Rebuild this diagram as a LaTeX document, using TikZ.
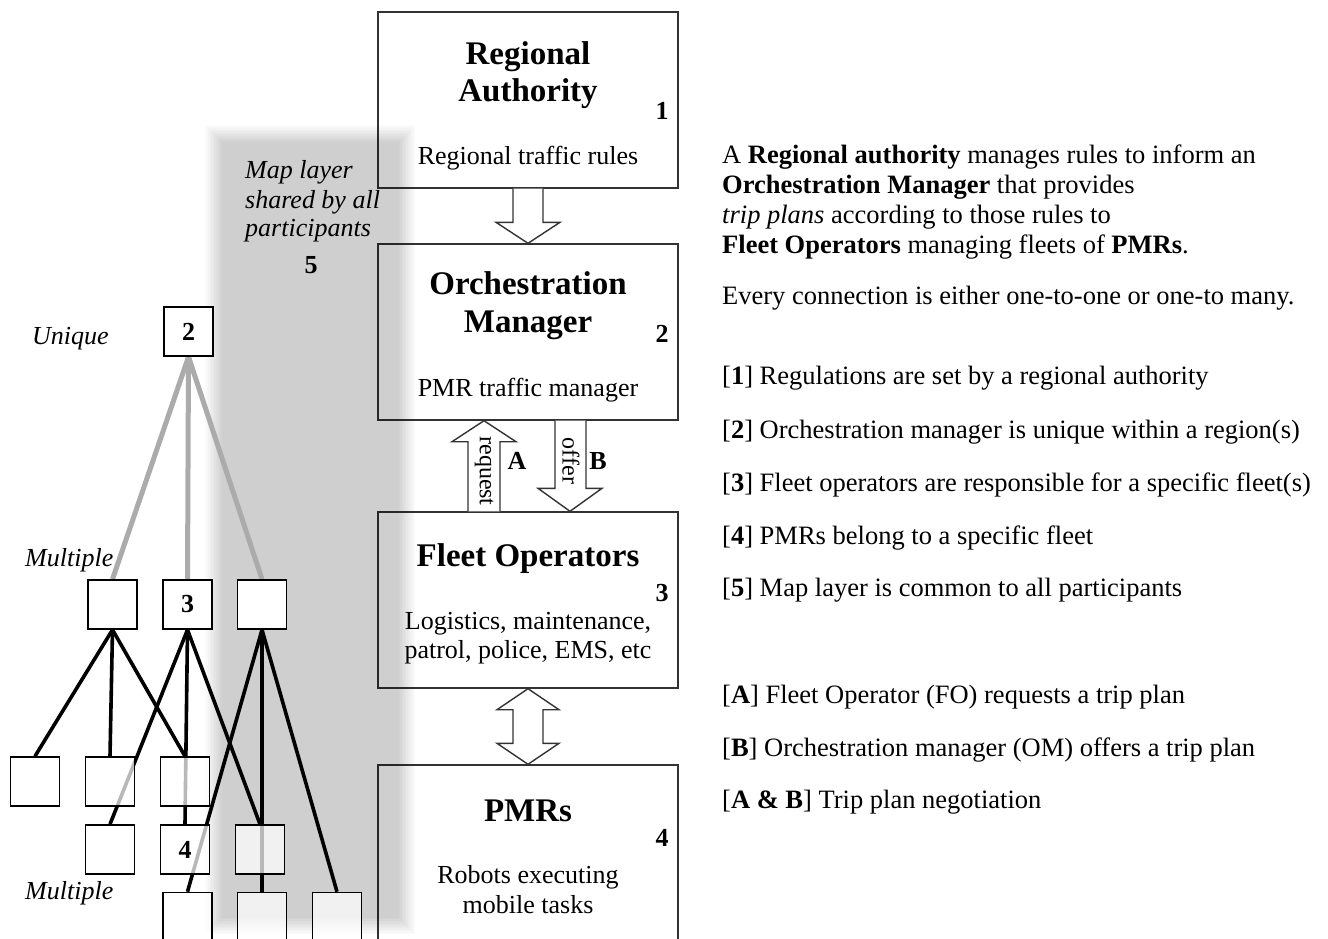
\documentclass[tikz,border=0pt]{standalone}
\usepackage{fontspec}
\setmainfont{Liberation Serif}
\usetikzlibrary{calc}
\tikzset{
  bigbox/.style={draw=black!80, line width=1.4pt, fill=white, minimum width=300pt, minimum height=176pt, inner sep=0pt},
  tbox/.style={draw=black, line width=1.6pt, fill=white, fill opacity=0.72, text opacity=1, minimum size=49pt, inner sep=0pt, font=\fontsize{26}{30}\selectfont\bfseries},
  glink/.style={draw=black!33, line width=5pt},
  blink/.style={draw=black, line width=3.6pt},
  blockarrow/.style={draw=black!80, line width=1.4pt, fill=white, line join=miter},
  boxtitle/.style={font=\fontsize{33}{37}\selectfont\bfseries, anchor=mid, inner sep=0pt, yshift=-5pt},
  boxsub/.style={font=\fontsize{26}{30}\selectfont, anchor=mid, inner sep=0pt, yshift=-5pt},
  numlbl/.style={font=\fontsize{26}{30}\selectfont\bfseries, anchor=mid, inner sep=0pt, yshift=-5pt},
  desctext/.style={font=\fontsize{26.5}{30}\selectfont, anchor=mid west, inner sep=0pt, yshift=-5pt},
  treelbl/.style={font=\fontsize{26}{30}\selectfont\itshape, anchor=mid west, inner sep=0pt, yshift=-5pt},
  arrowtext/.style={font=\fontsize{24}{27}\selectfont, rotate=-90, inner sep=0pt},
}
\begin{document}
\begin{tikzpicture}[x=1pt,y=-1pt]
\clip (0,0) rectangle (1328,938);
\fill[white] (0,0) rectangle (1328,938);

% main boxes
\node[bigbox] (ra) at (528,100) {};
\node[bigbox] (om) at (528,332) {};
\node[bigbox] (fo) at (528,600) {};
\node[bigbox, minimum height=200pt] (pmr) at (528,865) {};

% block arrows
\draw[blockarrow] ($(ra.south)+(-15,0)$) -- ($(om.north)+(-15,-21)$) -- ($(om.north)+(-32,-21)$) -- (om.north) -- ($(om.north)+(32,-21)$) -- ($(om.north)+(15,-21)$) -- ($(ra.south)+(15,0)$);
\draw[blockarrow] ($(fo.north)+(-60,0)$) -- ($(om.south)+(-60,21)$) -- ($(om.south)+(-76,21)$) -- ($(om.south)+(-44,0)$) -- ($(om.south)+(-12,21)$) -- ($(om.south)+(-28,21)$) -- ($(fo.north)+(-28,0)$);
\draw[blockarrow] ($(om.south)+(27,0)$) -- ($(fo.north)+(27,-23)$) -- ($(fo.north)+(10,-23)$) -- ($(fo.north)+(42,0)$) -- ($(fo.north)+(74,-23)$) -- ($(fo.north)+(58,-23)$) -- ($(om.south)+(58,0)$);
\draw[blockarrow] (fo.south) -- ($(fo.south)+(31,21)$) -- ($(fo.south)+(15,21)$) -- ($(pmr.north)+(15,-21)$) -- ($(pmr.north)+(31,-21)$) -- (pmr.north) -- ($(pmr.north)+(-31,-21)$) -- ($(pmr.north)+(-15,-21)$) -- ($(fo.south)+(-15,21)$) -- ($(fo.south)+(-31,21)$) -- cycle;

\node[arrowtext] (req) at (484,471) {request};
\node[arrowtext] (off) at (571,461) {offer};
\node[numlbl] (la) at (517,462) {A};
\node[numlbl] (lb) at (598,462) {B};

% shared map layer band (soft edges)
\foreach \i in {0,...,11}{
  \pgfmathsetmacro{\d}{-9+1.5*\i}
  \fill[black, opacity=0.0138] (214+\d,134+\d) rectangle (406-\d,925-\d);
}

% box texts
\node[boxtitle] (ra1) at (528,57.5) {Regional};
\node[boxtitle] (ra2) at (528,94.5) {Authority};
\node[numlbl] (ran) at (662,112) {1};
\node[boxsub] (ra3) at (528,157) {Regional traffic rules};

\node[boxtitle] (om1) at (528,287.5) {Orchestration};
\node[boxtitle] (om2) at (528,325.5) {Manager};
\node[numlbl] (omn) at (662,335) {2};
\node[boxsub] (om3) at (528,389) {PMR traffic manager};

\node[boxtitle] (fo1) at (528,559.5) {Fleet Operators};
\node[numlbl] (fon) at (662,594) {3};
\node[boxsub] (fo2) at (528,622) {Logistics, maintenance,};
\node[boxsub] (fo3) at (528,651) {patrol, police, EMS, etc};

\node[boxtitle] (pm1) at (528,814.5) {PMRs};
\node[numlbl] (pmn) at (662,839) {4};
\node[boxsub] (pm2) at (528,876) {Robots executing};
\node[boxsub] (pm3) at (528,906) {mobile tasks};

% band texts
\node[treelbl] (map1) at (245,171) {Map layer};
\node[treelbl] (map2) at (245,201) {shared by all};
\node[treelbl] (map3) at (245,229) {participants};
\node[numlbl] (map5) at (311,266) {5};

% tree labels
\node[treelbl] (uniq) at (32,337) {Unique};
\node[treelbl] (mult1) at (25,559) {Multiple};
\node[treelbl] (mult2) at (25,892) {Multiple};

% tree box positions
\coordinate (c2) at (188.5,331.5);
\coordinate (c1a) at (112.5,604.5);
\coordinate (c1b) at (187.5,604.5);
\coordinate (c1c) at (262,604.5);
\coordinate (c2a) at (35,781.5);
\coordinate (c2b) at (110,781.5);
\coordinate (c2c) at (185,781.5);
\coordinate (c3a) at (110,849.5);
\coordinate (c3b) at (185,849.5);
\coordinate (c3c) at (260,849.5);
\coordinate (c4a) at (187.5,917);
\coordinate (c4b) at (262,917);
\coordinate (c4c) at (337,917);

\begin{scope}[every node/.style={tbox}]
\node[draw=none, fill=none] (t2) at (c2) {};
\node[draw=none, fill=none] (r1a) at (c1a) {};
\node[draw=none, fill=none] (r1b) at (c1b) {};
\node[draw=none, fill=none] (r1c) at (c1c) {};
\node[draw=none, fill=none] (r2a) at (c2a) {};
\node[draw=none, fill=none] (r2b) at (c2b) {};
\node[draw=none, fill=none] (r2c) at (c2c) {};
\node[draw=none, fill=none] (r3a) at (c3a) {};
\node[draw=none, fill=none] (r3b) at (c3b) {};
\node[draw=none, fill=none] (r3c) at (c3c) {};
\node[draw=none, fill=none] (r4a) at (c4a) {};
\node[draw=none, fill=none] (r4b) at (c4b) {};
\node[draw=none, fill=none] (r4c) at (c4c) {};
\end{scope}

% connectors
\draw[glink] (t2.south) -- (r1a.north);
\draw[glink] (t2.south) -- (r1b.north);
\draw[glink] (t2.south) -- (r1c.north);
\draw[blink] (r1a.south) -- (r2a.north);
\draw[blink] (r1a.south) -- (r2b.north);
\draw[blink] (r1a.south) -- (r2c.north);
\draw[blink] (r1b.south) -- (r3a.north);
\draw[blink] (r1b.south) -- (r3b.north);
\draw[blink] (r1b.south) -- (r3c.north);
\draw[blink] (r1c.south) -- (r4a.north);
\draw[blink] (r1c.south) -- (r4b.north);
\draw[blink] (r1c.south) -- (r4c.north);

% visible tree boxes on top
\node[tbox, fill opacity=1] (b2) at (t2) {2};
\node[tbox, fill opacity=1] (b1a) at (r1a) {};
\node[tbox, fill opacity=1] (b1b) at (r1b) {3};
\node[tbox, fill opacity=1] (b1c) at (r1c) {};
\node[tbox] (b2a) at (r2a) {};
\node[tbox] (b2b) at (r2b) {};
\node[tbox] (b2c) at (r2c) {};
\node[tbox] (b3a) at (r3a) {};
\node[tbox] (b3b) at (r3b) {4};
\node[tbox] (b3c) at (r3c) {};
\node[tbox] (b4a) at (r4a) {};
\node[tbox] (b4b) at (r4b) {};
\node[tbox] (b4c) at (r4c) {};

% right-hand description
\node[desctext] (d1) at (722,156) {A \textbf{Regional authority} manages rules to inform an};
\node[desctext] (d2) at (722,186) {\textbf{Orchestration Manager} that provides};
\node[desctext] (d3) at (722,216) {\textit{trip plans} according to those rules to};
\node[desctext] (d4) at (722,246) {\textbf{Fleet Operators} managing fleets of \textbf{PMRs}.};
\node[desctext] (d5) at (722,297) {Every connection is either one-to-one or one-to many.};
\node[desctext] (n1) at (722,377) {[\textbf{1}] Regulations are set by a regional authority};
\node[desctext] (n2) at (722,431) {[\textbf{2}] Orchestration manager is unique within a region(s)};
\node[desctext] (n3) at (722,484) {[\textbf{3}] Fleet operators are responsible for a specific fleet(s)};
\node[desctext] (n4) at (722,537) {[\textbf{4}] PMRs belong to a specific fleet};
\node[desctext] (n5) at (722,589) {[\textbf{5}] Map layer is common to all participants};
\node[desctext] (na) at (722,696) {[\textbf{A}] Fleet Operator (FO) requests a trip plan};
\node[desctext] (nb) at (722,749) {[\textbf{B}] Orchestration manager (OM) offers a trip plan};
\node[desctext] (nab) at (722,801) {[\textbf{A \& B}] Trip plan negotiation};
\end{tikzpicture}
\end{document}
